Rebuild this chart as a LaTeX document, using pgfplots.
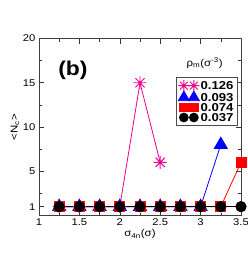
\documentclass[border=0pt]{standalone}
\usepackage{pgfplots}
\pgfplotsset{compat=1.18}
\usepackage{fontspec}
\setmainfont{Liberation Sans}[FakeStretch=1.15]
\pgfdeclareplotmark{ast8}{%
  \pgfpathmoveto{\pgfqpoint{-\pgfplotmarksize}{0pt}}\pgfpathlineto{\pgfqpoint{\pgfplotmarksize}{0pt}}%
  \pgfpathmoveto{\pgfqpoint{0pt}{-\pgfplotmarksize}}\pgfpathlineto{\pgfqpoint{0pt}{\pgfplotmarksize}}%
  \pgfpathmoveto{\pgfqpoint{-0.707\pgfplotmarksize}{-0.707\pgfplotmarksize}}\pgfpathlineto{\pgfqpoint{0.707\pgfplotmarksize}{0.707\pgfplotmarksize}}%
  \pgfpathmoveto{\pgfqpoint{-0.707\pgfplotmarksize}{0.707\pgfplotmarksize}}\pgfpathlineto{\pgfqpoint{0.707\pgfplotmarksize}{-0.707\pgfplotmarksize}}%
  \pgfusepathqstroke}
\begin{document}
\begin{tikzpicture}
\useasboundingbox (-39bp,-39.5bp) rectangle (209bp,215.5bp);
\begin{axis}[
  at={(0,0)}, anchor=south west,
  scale only axis, width=202bp, height=177bp,
  xmin=1, xmax=3.5, ymin=0, ymax=20,
  xtick={1,1.5,2,2.5,3,3.5},
  minor xtick={1.25,1.75,2.25,2.75,3.25},
  ytick={1,5,10,15,20},
  minor ytick={2.5,7.5,12.5,17.5},
  tick align=inside,
  major tick length=5bp, minor tick length=3bp,
  every tick/.style={black!80, line width=0.6pt},
  axis line style={line width=0.8pt, black!75},
  tick label style={font=\fontsize{9.8}{11}\selectfont},
  /pgf/number format/assume math mode=true,
  xticklabel style={yshift=0bp},
  xlabel={σ\textsubscript{4n}(σ)},
  ylabel={<N\textsubscript{c}>},
  label style={font=\fontsize{10}{11}\selectfont},
  xlabel style={yshift=3bp},
  ylabel style={yshift=-3bp},
  legend style={at={(rel axis cs:0.676,0.781)}, anchor=north west,
    font=\bfseries\fontsize{11.5}{12}\selectfont, draw=black!70, line width=0.6pt,
    inner sep=2.5bp, row sep=0pt, cells={anchor=west},
    nodes={inner sep=1.2bp, text height=7.6bp, text depth=0bp}},
  legend image code/.code={\draw[#1, every mark/.append style={scale=0.85}] plot[only marks] coordinates {(0bp,0bp) (10bp,0bp)};},
  clip=false,
]
\addplot[magenta, line width=0.8pt, mark=ast8, mark size=6.5bp, mark options={line width=1pt}]
  coordinates {(1.25,1) (1.5,1) (1.75,1) (2.0,1) (2.25,15) (2.5,6)};
\addlegendentry{0.126}
\addplot[blue, line width=0.8pt, mark=triangle*, mark size=7.5bp]
  coordinates {(1.25,1) (1.5,1) (1.75,1) (2.0,1) (2.25,1) (2.5,1) (2.75,1) (3.0,1) (3.25,8)};
\addlegendentry{0.093}
\addplot[red, line width=0.8pt, mark=square*, mark size=5bp]
  coordinates {(1.25,1) (1.5,1) (1.75,1) (2.0,1) (2.25,1) (2.5,1) (2.75,1) (3.0,1) (3.25,1) (3.5,6)};
\addlegendentry{0.074}
\addplot[black, line width=0.8pt, mark=*, mark size=5.2bp]
  coordinates {(1.25,1) (1.5,1) (1.75,1) (2.0,1) (2.25,1) (2.5,1) (2.75,1) (3.0,1) (3.25,1) (3.5,1)};
\addlegendentry{0.037}
\node at (axis cs:1.42,16.4) {\fontsize{20}{22}\selectfont\bfseries (b)};
\node at (axis cs:3.05,17.25) {\fontsize{10}{11}\selectfont ρ\textsubscript{m}(σ\textsuperscript{-3})};
\end{axis}
\end{tikzpicture}
\end{document}
